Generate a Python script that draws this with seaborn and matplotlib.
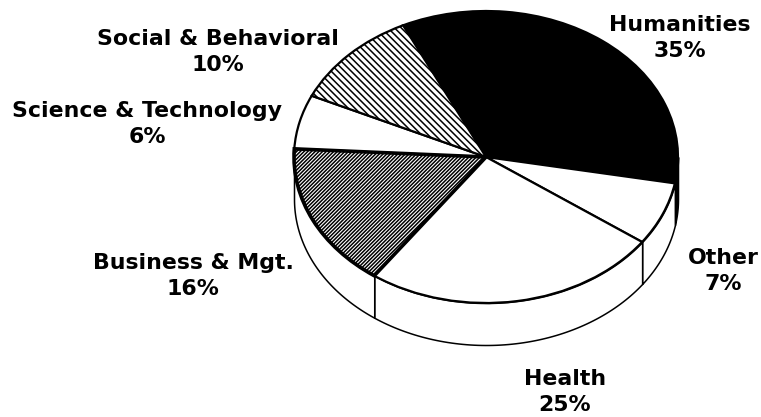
import numpy as np
import matplotlib
matplotlib.use("Agg")
import matplotlib.pyplot as plt
import seaborn as sns

# slice order goes clockwise starting from Humanities
categories = ["Humanities", "Other", "Health", "Business & Mgt.", "Science & Technology", "Social & Behavioral"]
printed_pct = [35, 7, 25, 16, 6, 10]
# sizes of the slices as drawn (printed numbers only add up to 99)
slice_sizes = [35, 7, 25, 16, 6, 11]

W, H = 761, 417
cx, cy = 486, 157      # centre of the top face, pixels
rx, ry = 192, 146      # radii of the top face
depth = 42 / ry
start = 115.6

fills = ["black", "white", "white", "white", "white", "white"]
wall_fills = ["black", "white", "white", "white", "white", "white"]
hatches = [None, None, None, "/////////", None, "\\\\\\\\\\"]
edge_widths = [1.6, 1.6, 1.6, 2.6, 1.6, 1.6]
label_xy = [(680, 38), (723, 271), (565, 392), (193, 276), (147, 124), (218, 52)]

sns.set_theme(style="white")
plt.rcParams["font.family"] = ["DejaVu Sans"]
plt.rcParams["hatch.linewidth"] = 1.1

fig = plt.figure(figsize=(W / 100, H / 100), dpi=100, facecolor="white")
ax = fig.add_axes([0, 0, 1, 1])

# side wall, only the front half of the pie shows
sizes = np.array(slice_sizes, dtype=float)
ends = start - np.cumsum(sizes) / sizes.sum() * 360
starts = np.r_[start, ends[:-1]]
for a1, a2, col in zip(starts, ends, wall_fills):
    hi, lo = min(a1, 0), max(a2, -180)
    if lo >= hi:
        continue
    t = np.radians(np.linspace(lo, hi, 80))
    ax.fill_between(np.cos(t), np.sin(t), np.sin(t) - depth, facecolor=col,
                    edgecolor="black", linewidth=1.1, zorder=1)

# top face
wedges, _ = ax.pie(sizes, startangle=start, counterclock=False, colors=fills,
                   wedgeprops=dict(edgecolor="black", linewidth=1.6))
for w, h, lw in zip(wedges, hatches, edge_widths):
    w.set_zorder(2)
    w.set_linewidth(lw)
    if h:
        w.set_hatch(h)
wedges[3].set_zorder(3)

# pie forces an equal aspect, undo it so the circle becomes an ellipse
ax.set_aspect("auto")
ax.set_xlim(-cx / rx, (W - cx) / rx)
ax.set_ylim((cy - H) / ry, cy / ry)
ax.axis("off")

for name, pct, (x, y) in zip(categories, printed_pct, label_xy):
    fig.text(x / W, 1 - y / H, f"{name}\n{pct}%", ha="center", va="center",
             fontsize=15.8, fontweight="bold", color="black", linespacing=1.35)

fig.savefig("out.png", dpi=100)
